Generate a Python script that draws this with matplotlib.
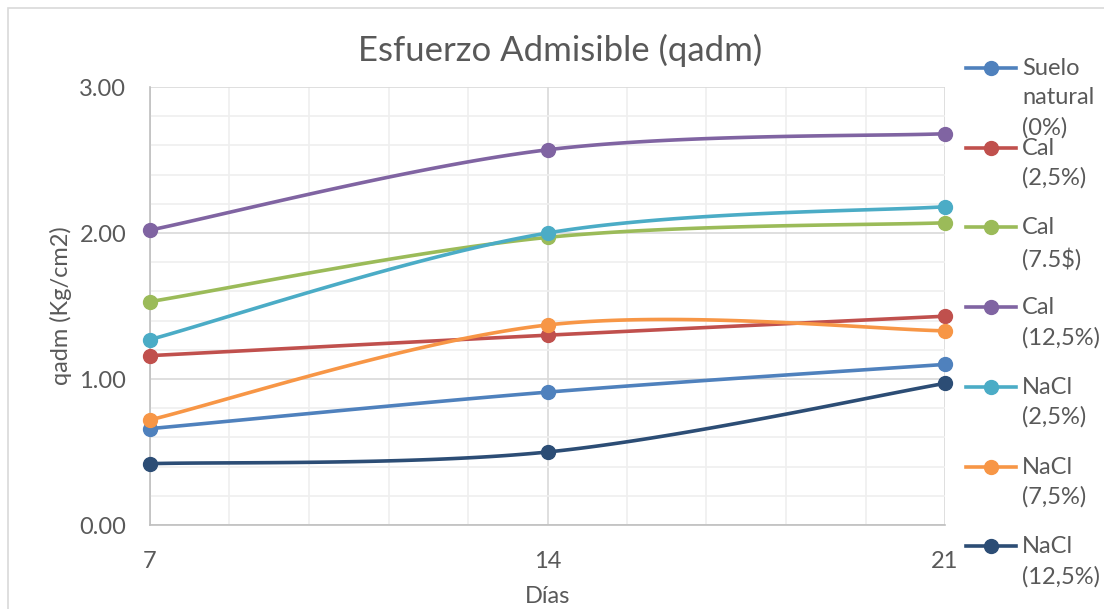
import matplotlib
matplotlib.use('Agg')
import matplotlib.pyplot as plt
import numpy as np
from matplotlib.lines import Line2D
from matplotlib.patches import Rectangle
from matplotlib.ticker import MultipleLocator

plt.rcParams['font.family'] = ['Lato', 'DejaVu Sans']

days = [7, 14, 21]
series_names = [
    'Suelo\nnatural\n(0%)',
    'Cal\n(2,5%)',
    'Cal\n(7.5$)',
    'Cal\n(12,5%)',
    'NaCl\n(2,5%)',
    'NaCl\n(7,5%)',
    'NaCl\n(12,5%)',
]
suelo_natural = [0.66, 0.91, 1.10]
cal_25 = [1.16, 1.30, 1.43]
cal_75 = [1.53, 1.97, 2.07]
cal_125 = [2.02, 2.57, 2.68]
nacl_25 = [1.27, 2.00, 2.18]
nacl_75 = [0.72, 1.37, 1.33]
nacl_125 = [0.42, 0.50, 0.97]
all_values = [suelo_natural, cal_25, cal_75, cal_125, nacl_25, nacl_75, nacl_125]
colors = ['#4F81BD', '#C0504D', '#9BBB59', '#8064A2', '#4BACC6', '#F79646', '#2C4D75']

TEXT = '#595959'


def smooth(xs, ys, n=60):
    # cardinal bezier through the points, like a spreadsheet "smoothed line"
    pts = np.column_stack([xs, ys]).astype(float)
    ext = np.vstack([pts[0], pts, pts[-1]])
    out = []
    t = np.linspace(0, 1, n)[:, None]
    for i in range(len(pts) - 1):
        p0, p1, p2, p3 = ext[i], ext[i + 1], ext[i + 2], ext[i + 3]
        c1 = p1 + (p2 - p0) / 6
        c2 = p2 - (p3 - p1) / 6
        seg = ((1 - t) ** 3) * p1 + 3 * ((1 - t) ** 2) * t * c1 + 3 * (1 - t) * t ** 2 * c2 + t ** 3 * p2
        out.append(seg if i == 0 else seg[1:])
    out = np.vstack(out)
    return out[:, 0], out[:, 1]


W, H = 1104, 609
fig = plt.figure(figsize=(W / 100, H / 100), dpi=100)
fig.patches.append(Rectangle((8 / W, -0.1), 1.2, 1 - 8 / H + 0.1, transform=fig.transFigure,
                             fill=False, edgecolor='#D9D9D9', linewidth=1.2))

ax = fig.add_axes([150 / W, (H - 525) / H, (945 - 150) / W, (525 - 87) / H])
ax.set_xlim(7, 21)
ax.set_ylim(0, 3)
ax.xaxis.set_major_locator(MultipleLocator(7))
ax.xaxis.set_minor_locator(MultipleLocator(1.4))
ax.yaxis.set_major_locator(MultipleLocator(1))
ax.yaxis.set_minor_locator(MultipleLocator(0.2))
ax.yaxis.set_major_formatter(lambda v, p: f'{v:.2f}')
ax.grid(which='major', color='#D9D9D9', linewidth=1.2)
ax.grid(which='minor', color='#EFEFEF', linewidth=1.2)
ax.set_axisbelow(True)
for side in ['top', 'right']:
    ax.spines[side].set_visible(False)
for side in ['left', 'bottom']:
    ax.spines[side].set_color('#BFBFBF')
    ax.spines[side].set_linewidth(1.2)
ax.tick_params(which='both', length=0, labelsize=17, colors=TEXT)
ax.tick_params(axis='x', pad=19)
ax.tick_params(axis='y', pad=17)

for vals, col in zip(all_values, colors):
    sx, sy = smooth(days, vals)
    ax.plot(sx, sy, color=col, linewidth=2.6, solid_capstyle='round', zorder=3)
    ax.plot(days, vals, 'o', color=col, markersize=10, zorder=4, clip_on=False)

fig.text(560 / W, 1 - 50 / H, 'Esfuerzo Admisible (qadm)', fontsize=25, color=TEXT,
         ha='center', va='center')
ax.set_xlabel('Días', fontsize=17, color=TEXT, labelpad=10)
ax.set_ylabel('qadm (Kg/cm2)', fontsize=17, color=TEXT, labelpad=5)

# legend drawn by hand so the marker sits on the first text line
for i, (name, col) in enumerate(zip(series_names, colors)):
    yc = 1 - (68 + i * 79.7) / H
    fig.add_artist(Line2D([966 / W, 1016 / W], [yc, yc], color=col, linewidth=2.6,
                          transform=fig.transFigure))
    fig.add_artist(Line2D([991 / W], [yc], marker='o', color=col, markersize=10,
                          transform=fig.transFigure))
    fig.text(1022 / W, yc + 10 / H, name, fontsize=17, color=TEXT, va='top', ha='left',
             linespacing=1.5)

fig.savefig('out.png', dpi=100)
